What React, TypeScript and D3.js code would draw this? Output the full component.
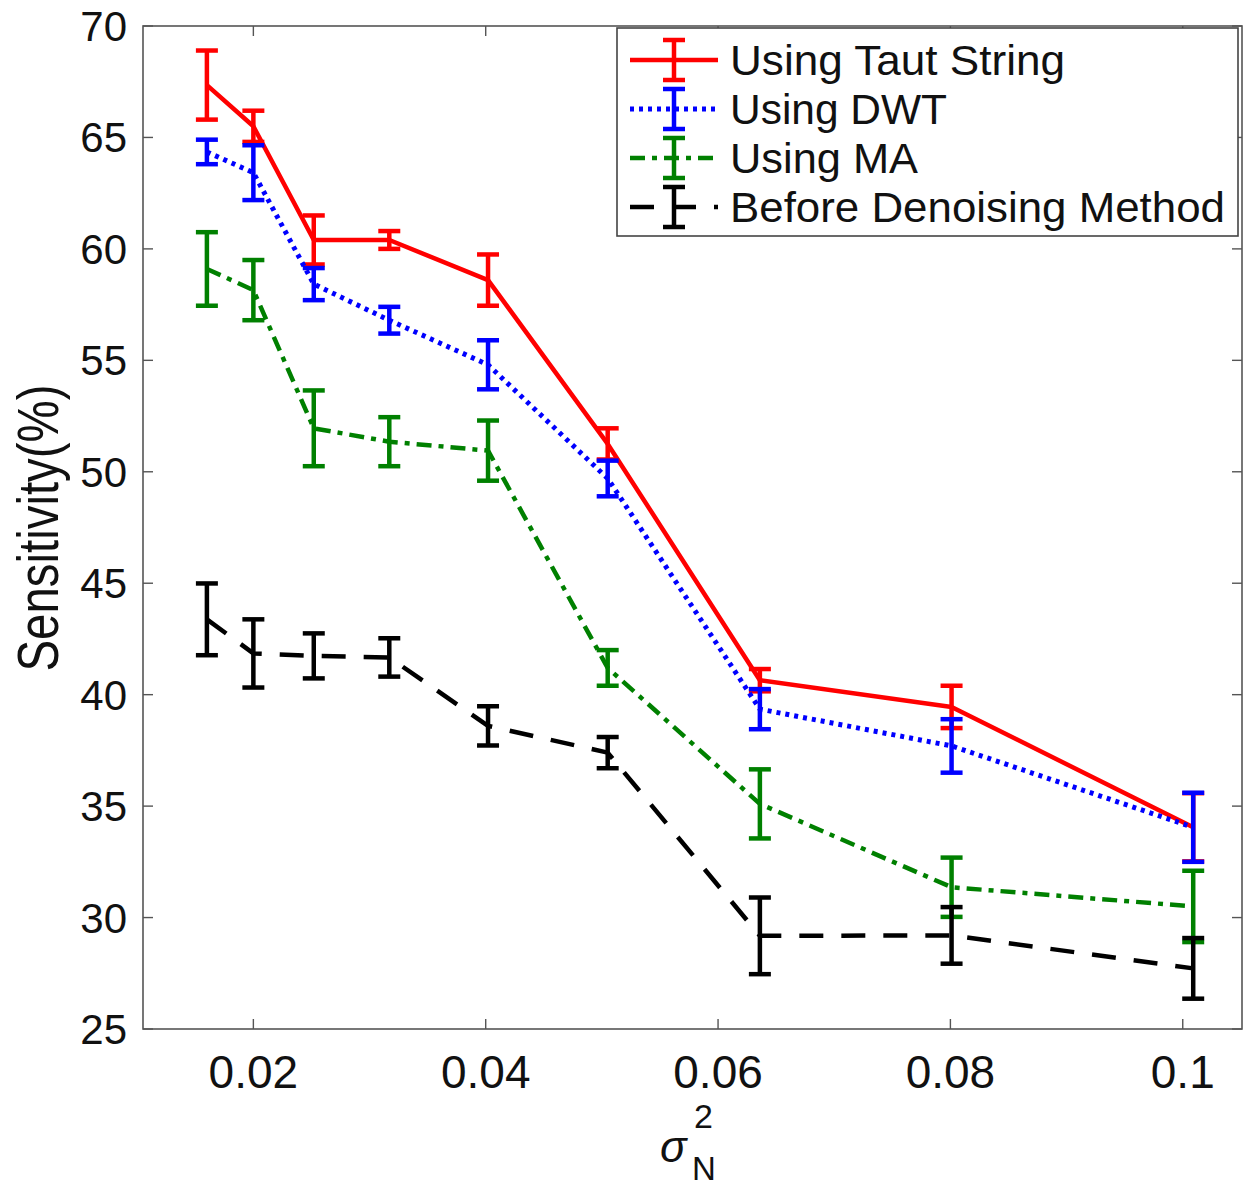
import React, { useEffect, useRef } from 'react';
import * as d3 from 'd3';

// noise variance (x positions)
const noiseVar = [0.016, 0.02, 0.0252, 0.0317, 0.0402, 0.0505, 0.0636, 0.0801, 0.1009];

const tautMean = [67.35, 65.5, 60.4, 60.4, 58.6, 51.25, 40.65, 39.45, 34.05];
const tautErr = [1.55, 0.7, 1.1, 0.4, 1.15, 0.7, 0.5, 0.95, 1.53];

const dwtMean = [64.35, 63.42, 58.42, 56.8, 54.8, 49.7, 39.35, 37.7, 34.05];
const dwtErr = [0.55, 1.23, 0.72, 0.6, 1.1, 0.8, 0.9, 1.2, 1.55];

const maMean = [59.1, 58.15, 51.95, 51.35, 50.95, 41.2, 35.1, 31.36, 30.5];
const maErr = [1.65, 1.35, 1.7, 1.1, 1.35, 0.8, 1.55, 1.33, 1.6];

const beforeMean = [43.38, 41.85, 41.74, 41.67, 38.6, 37.4, 29.18, 29.2, 27.72];
const beforeErr = [1.61, 1.53, 1.01, 0.86, 0.88, 0.7, 1.72, 1.27, 1.36];

const seriesNames = ['Using Taut String', 'Using DWT', 'Using MA', 'Before Denoising Method'];
const seriesColors = ['#ff0000', '#0000ff', '#008000', '#000000'];
const seriesDash = [null, '4,5', '15,7,5,7', '24,18'];
const legendTextLen = [335, 217, 188, 495];

const xTicks = [0.02, 0.04, 0.06, 0.08, 0.1];
const xTickLabels = ['0.02', '0.04', '0.06', '0.08', '0.1'];
const yTicks = [25, 30, 35, 40, 45, 50, 55, 60, 65, 70];

const FONT = '"Liberation Sans", Arial, Helvetica, sans-serif';

function App() {
  const ref = useRef(null);

  useEffect(() => {
    const W = 1254, H = 1188;
    const margin = { top: 26, right: 12, bottom: 159, left: 143 };
    const width = W - margin.left - margin.right,
      height = H - margin.top - margin.bottom;

    const svg = d3.select(ref.current);
    svg.selectAll('*').remove();

    const x = d3.scaleLinear().domain([0.0105, 0.1051]).range([0, width]);
    const y = d3.scaleLinear().domain([25, 70]).range([height, 0]);

    const g = svg.append('g')
      .attr('transform', `translate(${margin.left},${margin.top})`);

    // axes box
    g.append('rect')
      .attr('width', width)
      .attr('height', height)
      .attr('fill', 'white')
      .attr('stroke', '#555')
      .attr('stroke-width', 1.6);

    // ticks (inside, on all four sides)
    const tickLen = 10;
    xTicks.forEach(t => {
      g.append('line').attr('x1', x(t)).attr('x2', x(t)).attr('y1', height).attr('y2', height - tickLen)
        .attr('stroke', '#555').attr('stroke-width', 1.4);
      g.append('line').attr('x1', x(t)).attr('x2', x(t)).attr('y1', 0).attr('y2', tickLen)
        .attr('stroke', '#555').attr('stroke-width', 1.4);
    });
    yTicks.forEach(t => {
      g.append('line').attr('x1', 0).attr('x2', tickLen).attr('y1', y(t)).attr('y2', y(t))
        .attr('stroke', '#555').attr('stroke-width', 1.4);
      g.append('line').attr('x1', width).attr('x2', width - tickLen).attr('y1', y(t)).attr('y2', y(t))
        .attr('stroke', '#555').attr('stroke-width', 1.4);
    });

    // tick labels
    g.selectAll('.xlab')
      .data(xTicks)
      .join('text')
      .attr('x', d => x(d))
      .attr('y', height + 59)
      .attr('text-anchor', 'middle')
      .style('font-family', FONT)
      .style('font-size', '46px')
      .attr('fill', '#111')
      .text((d, i) => xTickLabels[i]);

    g.selectAll('.ylab')
      .data(yTicks)
      .join('text')
      .attr('x', -16)
      .attr('y', d => y(d) + 15)
      .attr('text-anchor', 'end')
      .style('font-family', FONT)
      .style('font-size', '42px')
      .attr('fill', '#111')
      .text(d => d);

    // y axis title
    svg.append('text')
      .attr('transform', `translate(58,528) rotate(-90)`)
      .attr('text-anchor', 'middle')
      .attr('textLength', 287)
      .attr('lengthAdjust', 'spacingAndGlyphs')
      .style('font-family', FONT)
      .style('font-size', '58px')
      .attr('fill', '#111')
      .text('Sensitivity(%)');

    // x axis title: sigma_N^2
    svg.append('text')
      .attr('x', 660)
      .attr('y', 1162)
      .style('font-family', FONT)
      .style('font-size', '44px')
      .style('font-style', 'italic')
      .attr('fill', '#111')
      .text('σ');
    svg.append('text')
      .attr('x', 694)
      .attr('y', 1128)
      .style('font-family', FONT)
      .style('font-size', '34px')
      .attr('fill', '#111')
      .text('2');
    svg.append('text')
      .attr('x', 692)
      .attr('y', 1180)
      .style('font-family', FONT)
      .style('font-size', '33px')
      .attr('fill', '#111')
      .text('N');

    // series
    const allMeans = [tautMean, dwtMean, maMean, beforeMean];
    const allErrs = [tautErr, dwtErr, maErr, beforeErr];
    const capW = 11;

    const plot = g.append('g');
    allMeans.forEach((means, s) => {
      const pts = noiseVar.map((v, i) => ({ x: v, y: means[i], e: allErrs[s][i] }));
      const color = seriesColors[s];

      const line = d3.line().x(d => x(d.x)).y(d => y(d.y));
      plot.append('path')
        .datum(pts)
        .attr('d', line)
        .attr('fill', 'none')
        .attr('stroke', color)
        .attr('stroke-width', s === 1 ? 5 : 4.5)
        .attr('stroke-dasharray', seriesDash[s])
        .attr('stroke-linejoin', 'round');

      const bars = plot.append('g')
        .attr('stroke', color)
        .attr('stroke-width', 4.5);
      bars.selectAll('.v')
        .data(pts)
        .join('line')
        .attr('x1', d => x(d.x)).attr('x2', d => x(d.x))
        .attr('y1', d => y(d.y + d.e)).attr('y2', d => y(d.y - d.e));
      bars.selectAll('.top')
        .data(pts)
        .join('line')
        .attr('x1', d => x(d.x) - capW).attr('x2', d => x(d.x) + capW)
        .attr('y1', d => y(d.y + d.e)).attr('y2', d => y(d.y + d.e));
      bars.selectAll('.bot')
        .data(pts)
        .join('line')
        .attr('x1', d => x(d.x) - capW).attr('x2', d => x(d.x) + capW)
        .attr('y1', d => y(d.y - d.e)).attr('y2', d => y(d.y - d.e));
    });

    // legend
    const legend = svg.append('g');
    legend.append('rect')
      .attr('x', 617)
      .attr('y', 28)
      .attr('width', 621)
      .attr('height', 208)
      .attr('fill', 'white')
      .attr('stroke', '#444')
      .attr('stroke-width', 1.6);

    const rowY = [60, 109, 158, 207];
    seriesNames.forEach((name, i) => {
      const ry = rowY[i];
      const color = seriesColors[i];
      legend.append('line')
        .attr('x1', 630).attr('x2', 718).attr('y1', ry).attr('y2', ry)
        .attr('stroke', color)
        .attr('stroke-width', i === 1 ? 5 : 4.5)
        .attr('stroke-dasharray', seriesDash[i]);
      const eb = legend.append('g').attr('stroke', color).attr('stroke-width', 4.5);
      eb.append('line').attr('x1', 674).attr('x2', 674).attr('y1', ry - 20).attr('y2', ry + 20);
      eb.append('line').attr('x1', 663).attr('x2', 685).attr('y1', ry - 20).attr('y2', ry - 20);
      eb.append('line').attr('x1', 663).attr('x2', 685).attr('y1', ry + 20).attr('y2', ry + 20);
      legend.append('text')
        .attr('x', 730)
        .attr('y', ry + 15)
        .attr('textLength', legendTextLen[i])
        .attr('lengthAdjust', 'spacingAndGlyphs')
        .style('font-family', FONT)
        .style('font-size', '42px')
        .attr('fill', '#111')
        .text(name);
    });
  }, []);

  return (
    <svg ref={ref} width={1254} height={1188}
      style={{ position: 'absolute', left: 0, top: 0, background: 'white' }} />
  );
}

export default App;
